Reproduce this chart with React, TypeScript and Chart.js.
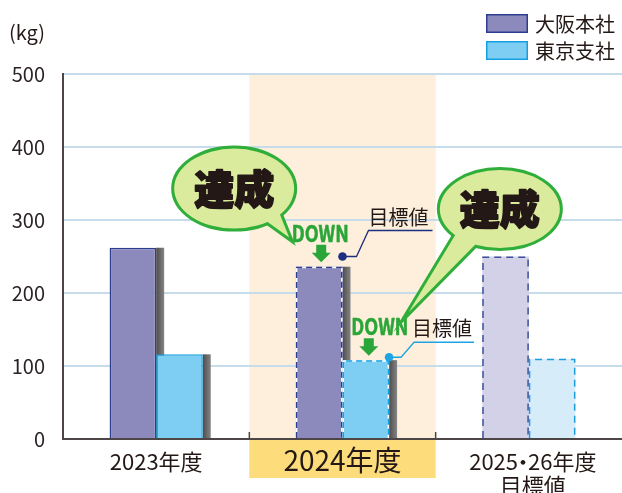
import React, { useEffect, useRef } from "react";
import { Chart, registerables } from "chart.js";

Chart.register(...registerables);

const categories = ["2023年度", "2024年度", "2025・26年度"];
const categorySubLabels = ["", "", "目標値"];
const seriesNames = ["大阪本社", "東京支社"];
const osakaValues = [262, 236, 250];
const tokyoValues = [116, 108, 110];
const targetValues2024 = [250, 112];
const yTickValues = [0, 100, 200, 300, 400, 500];
const unitLabel = "(kg)";
const achievedText = "達成";
const downText = "DOWN";
const targetText = "目標値";

const FONT = "'Noto Sans CJK JP', 'Noto Sans', sans-serif";
const TEXT = "#231815";
const osakaFill = ["#8c89bd", "#8c89bd", "#d3d1e8"];
const tokyoFill = ["#7ecef4", "#7ecef4", "#d6ecf9"];
const osakaEdge = "#2c3f8f";
const tokyoEdge = "#149fe0";
const GREEN = "#2aa639";

function barBox(chart: any, d: number, i: number) {
  const el = chart.getDatasetMeta(d).data[i];
  const p = el.getProps(["x", "y", "base", "width"], true);
  return { l: p.x - p.width / 2, r: p.x + p.width / 2, t: p.y, b: p.base, cx: p.x };
}

function drawBubble(ctx: CanvasRenderingContext2D, cx: number, cy: number, rx: number, ry: number, b1: number[], b2: number[], tip: number[]) {
  ctx.save();
  const tail = () => {
    ctx.beginPath();
    ctx.moveTo(b1[0], b1[1]);
    ctx.lineTo(tip[0], tip[1]);
    ctx.lineTo(b2[0], b2[1]);
    ctx.closePath();
  };
  const ell = () => {
    ctx.beginPath();
    ctx.ellipse(cx, cy, rx, ry, 0, 0, Math.PI * 2);
  };
  ctx.strokeStyle = "#2fae3a";
  ctx.lineWidth = 6;
  ctx.lineJoin = "miter";
  ell();
  ctx.stroke();
  tail();
  ctx.stroke();
  ctx.fillStyle = "#dbeb9e";
  ell();
  ctx.fill();
  tail();
  ctx.fill();
  ctx.fillStyle = TEXT;
  ctx.strokeStyle = TEXT;
  ctx.lineWidth = 1.8;
  ctx.lineJoin = "round";
  ctx.font = `900 40px ${FONT}`;
  ctx.textAlign = "center";
  ctx.textBaseline = "middle";
  ctx.fillText(achievedText, cx, cy);
  ctx.strokeText(achievedText, cx, cy);
  ctx.restore();
}

function drawDown(ctx: CanvasRenderingContext2D, arrowCx: number, textCx: number, barTop: number) {
  ctx.save();
  ctx.fillStyle = GREEN;
  ctx.strokeStyle = GREEN;
  ctx.lineWidth = 0.6;
  ctx.font = `bold 23px ${FONT}`;
  const w = ctx.measureText(downText).width;
  ctx.translate(textCx, barTop - 25);
  ctx.scale(57 / w, 1);
  ctx.textAlign = "center";
  ctx.textBaseline = "alphabetic";
  ctx.fillText(downText, 0, 0);
  ctx.strokeText(downText, 0, 0);
  ctx.restore();
  ctx.save();
  ctx.fillStyle = GREEN;
  const c = arrowCx;
  ctx.beginPath();
  ctx.moveTo(c - 5, barTop - 22);
  ctx.lineTo(c + 5, barTop - 22);
  ctx.lineTo(c + 5, barTop - 14);
  ctx.lineTo(c + 9.5, barTop - 14);
  ctx.lineTo(c, barTop - 4.5);
  ctx.lineTo(c - 9.5, barTop - 14);
  ctx.lineTo(c - 5, barTop - 14);
  ctx.closePath();
  ctx.fill();
  ctx.restore();
}

function drawTarget(ctx: CanvasRenderingContext2D, px: number, py: number, dx1: number, dx2: number, dy: number, len: number, color: string) {
  ctx.save();
  ctx.strokeStyle = color;
  ctx.lineWidth = 1.3;
  ctx.beginPath();
  ctx.moveTo(px, py);
  ctx.lineTo(px + dx1, py);
  ctx.lineTo(px + dx2, py - dy);
  ctx.lineTo(px + dx2 + len, py - dy);
  ctx.stroke();
  ctx.fillStyle = color;
  ctx.beginPath();
  ctx.arc(px, py, 4.3, 0, Math.PI * 2);
  ctx.fill();
  ctx.fillStyle = TEXT;
  ctx.font = `20px ${FONT}`;
  ctx.textAlign = "center";
  ctx.textBaseline = "alphabetic";
  ctx.fillText(targetText, px + dx2 + len / 2 - 2, py - dy - 6);
  ctx.restore();
}

function dashedOutline(ctx: CanvasRenderingContext2D, bx: any, color: string, withWhite: boolean, dash: number[]) {
  const l = bx.l + 0.75, r = bx.r - 0.75, t = bx.t + 0.75, b = bx.b;
  ctx.save();
  ctx.lineWidth = 1.5;
  const path = () => {
    ctx.beginPath();
    ctx.moveTo(l, b);
    ctx.lineTo(l, t);
    ctx.lineTo(r, t);
    ctx.lineTo(r, b);
  };
  if (withWhite) {
    ctx.strokeStyle = "#ffffff";
    path();
    ctx.stroke();
  }
  ctx.strokeStyle = color;
  ctx.setLineDash(dash);
  path();
  ctx.stroke();
  ctx.restore();
}

function drawLabelNarrowDot(ctx: CanvasRenderingContext2D, text: string, cx: number, cy: number) {
  const parts = text.split("・");
  if (parts.length < 2) {
    ctx.textAlign = "center";
    ctx.fillText(text, cx, cy);
    return;
  }
  const dotW = 10;
  const w0 = ctx.measureText(parts[0]).width;
  const w1 = ctx.measureText(parts[1]).width;
  const total = w0 + dotW + w1;
  let x = cx - total / 2;
  ctx.textAlign = "left";
  ctx.fillText(parts[0], x, cy);
  x += w0;
  ctx.textAlign = "center";
  ctx.fillText("・", x + dotW / 2, cy);
  x += dotW;
  ctx.textAlign = "left";
  ctx.fillText(parts[1], x, cy);
}

const decor = {
  id: "decor",
  beforeDraw(chart: any) {
    const { ctx, chartArea: a, scales } = chart;
    const x = scales.x;
    const cw = x.getPixelForValue(1) - x.getPixelForValue(0);
    const l = x.getPixelForValue(1) - cw / 2;
    ctx.save();
    ctx.fillStyle = "#fdefdc";
    ctx.fillRect(l, a.top, cw, a.bottom - a.top);
    ctx.fillStyle = "#fddc7b";
    ctx.fillRect(l, a.bottom, cw, 39);
    ctx.restore();
  },
  beforeDatasetsDraw(chart: any) {
    const { ctx } = chart;
    ctx.save();
    for (const i of [0, 1]) {
      for (const d of [0, 1]) {
        const bx = barBox(chart, d, i);
        const g = ctx.createLinearGradient(bx.r, 0, bx.r + 8, 0);
        g.addColorStop(0, "#4f4b4b");
        g.addColorStop(1, "#858585");
        ctx.fillStyle = g;
        ctx.fillRect(bx.r, bx.t, 8, bx.b - bx.t);
      }
    }
    ctx.restore();
  },
  afterDatasetsDraw(chart: any) {
    const { ctx, scales } = chart;
    const y = scales.y;
    const x = scales.x;
    dashedOutline(ctx, barBox(chart, 0, 1), osakaEdge, true, [6, 4]);
    dashedOutline(ctx, barBox(chart, 1, 1), tokyoEdge, true, [6, 4]);
    dashedOutline(ctx, barBox(chart, 0, 2), "#3e519c", false, [7, 5]);
    dashedOutline(ctx, barBox(chart, 1, 2), "#1ea0e0", false, [7, 5]);
    const o = barBox(chart, 0, 1);
    const t = barBox(chart, 1, 1);
    drawTarget(ctx, o.r, y.getPixelForValue(targetValues2024[0]), 14, 26, 26, 64, "#1d2f80");
    drawTarget(ctx, t.r, y.getPixelForValue(targetValues2024[1]), 12, 25, 15, 60, "#1ea4e2");
    drawDown(ctx, o.cx + 2, o.cx + 1, o.t);
    drawDown(ctx, t.cx + 3, t.cx + 14, t.t);
    const x0 = x.getPixelForValue(0);
    const x2 = x.getPixelForValue(2);
    const c1x = x0 + 78, c1y = y.getPixelForValue(343);
    drawBubble(ctx, c1x, c1y, 60, 40, [c1x + 30, c1y + 31], [c1x + 45, c1y + 24], [c1x + 55, c1y + 49]);
    const c2x = x2 - 29, c2y = y.getPixelForValue(315);
    drawBubble(ctx, c2x, c2y, 60, 39, [c2x - 44, c2y + 25], [c2x - 24, c2y + 35], [c2x - 91, c2y + 103]);
  },
  afterDraw(chart: any) {
    const { ctx, chartArea: a, scales } = chart;
    const x = scales.x;
    const cw = x.getPixelForValue(1) - x.getPixelForValue(0);
    ctx.save();
    ctx.strokeStyle = "#4e4646";
    ctx.lineWidth = 1.5;
    for (const i of [1, 2]) {
      const bx = x.getPixelForValue(i) - cw / 2;
      ctx.beginPath();
      ctx.moveTo(bx, a.bottom - 7);
      ctx.lineTo(bx, a.bottom);
      ctx.stroke();
    }
    ctx.fillStyle = TEXT;
    ctx.textAlign = "center";
    ctx.textBaseline = "middle";
    categories.forEach((c, i) => {
      const px = x.getPixelForValue(i);
      if (i === 1) {
        ctx.font = `28px ${FONT}`;
        ctx.textAlign = "center";
        ctx.fillText(c, px, a.bottom + 21);
      } else {
        ctx.font = `22px ${FONT}`;
        drawLabelNarrowDot(ctx, c, px + (i === 2 ? 4 : 0), a.bottom + 23);
        if (categorySubLabels[i]) {
          ctx.textAlign = "center";
          ctx.fillText(categorySubLabels[i], px + 4, a.bottom + 47);
        }
      }
    });
    ctx.textAlign = "left";
    ctx.font = `20px ${FONT}`;
    ctx.fillText(unitLabel, 9, 32);
    const fills = [osakaFill[0], tokyoFill[0]];
    const edges = [osakaEdge, tokyoEdge];
    seriesNames.forEach((s, i) => {
      const top = 14 + i * 27;
      ctx.fillStyle = fills[i];
      ctx.fillRect(486, top, 42, 19);
      ctx.strokeStyle = edges[i];
      ctx.lineWidth = 1.5;
      ctx.strokeRect(486.75, top + 0.75, 40.5, 17.5);
      ctx.fillStyle = TEXT;
      ctx.font = `20px ${FONT}`;
      ctx.textAlign = "left";
      ctx.textBaseline = "middle";
      ctx.fillText(s, 535, top + 10);
    });
    ctx.restore();
  },
};

export default function App() {
  const ref = useRef<HTMLCanvasElement | null>(null);
  useEffect(() => {
    if (!ref.current) return;
    const chart = new Chart(ref.current, {
      type: "bar",
      data: {
        labels: categories,
        datasets: [
          {
            label: seriesNames[0],
            data: osakaValues,
            backgroundColor: osakaFill,
            borderColor: osakaEdge,
            borderWidth: [1.5, 0, 0],
            borderSkipped: "bottom",
            categoryPercentage: 0.5,
            barPercentage: 1,
          },
          {
            label: seriesNames[1],
            data: tokyoValues,
            backgroundColor: tokyoFill,
            borderColor: tokyoEdge,
            borderWidth: [1.5, 0, 0],
            borderSkipped: "bottom",
            categoryPercentage: 0.5,
            barPercentage: 1,
          },
        ],
      },
      options: {
        animation: false,
        responsive: false,
        maintainAspectRatio: false,
        layout: { padding: { left: 0, right: 0, top: 74, bottom: 0 } },
        plugins: { legend: { display: false }, tooltip: { enabled: false } },
        scales: {
          x: {
            grid: { display: false },
            border: { color: "#4e4646", width: 2 },
            ticks: { display: false },
            afterFit: (s: any) => {
              s.height = 54;
            },
          },
          y: {
            min: 0,
            max: 500,
            afterBuildTicks: (s: any) => {
              s.ticks = yTickValues.map((v) => ({ value: v }));
            },
            ticks: { color: "#2b2323", font: { family: FONT, size: 20 }, padding: 18 },
            grid: { color: "#c6dcea", lineWidth: 2, drawTicks: false },
            border: { color: "#4e4646", width: 2 },
            afterFit: (s: any) => {
              s.width = 63;
            },
          },
        },
      } as any,
      plugins: [decor],
    });
    return () => chart.destroy();
  }, []);
  return (
    <div style={{ position: "fixed", left: 0, top: 0, width: 622, height: 493, background: "#fff" }}>
      <canvas ref={ref} width={622} height={493} style={{ width: 622, height: 493, display: "block" }} />
    </div>
  );
}
